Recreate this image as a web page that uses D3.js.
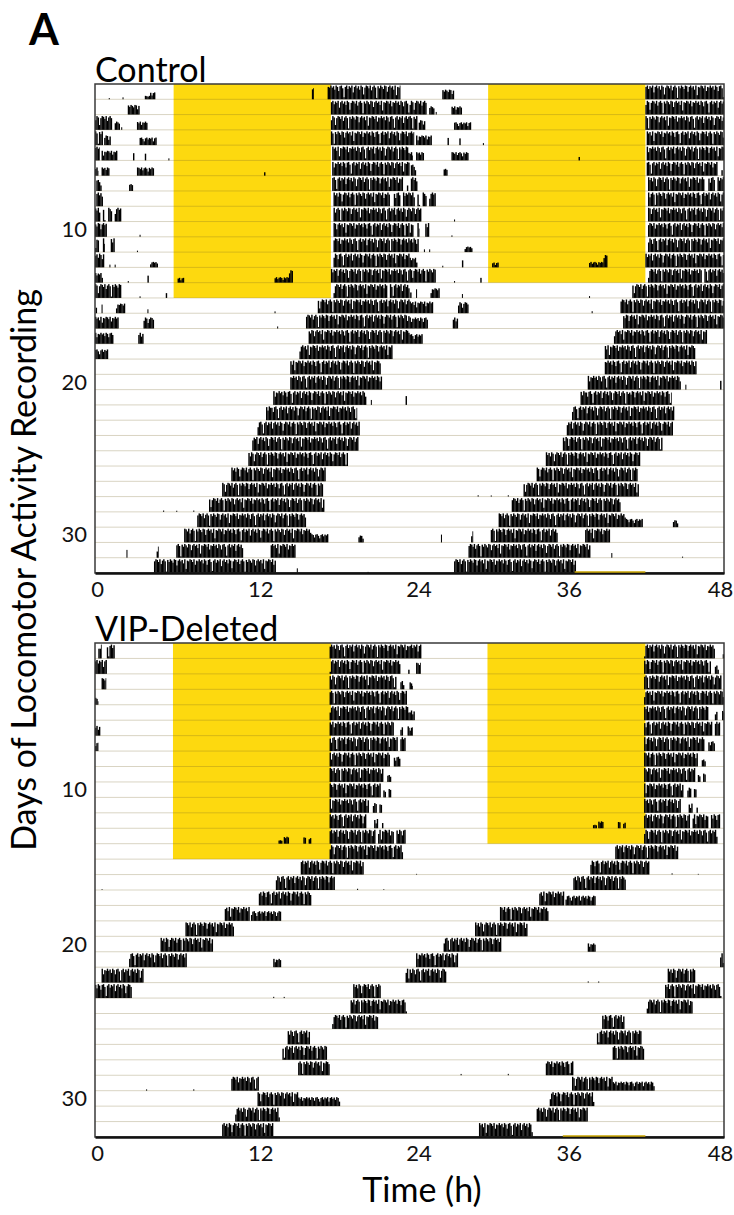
<!DOCTYPE html>
<html>
<head>
<meta charset="utf-8">
<script src="https://cdn.jsdelivr.net/npm/d3@7"></script>
<style>
  html, body { margin: 0; padding: 0; background: #fff; }
  svg { display: block; font-family: Lato, "Open Sans", sans-serif; }
</style>
</head>
<body>
<svg id="chart" width="734" height="1215"></svg>
<script>
// Double-plotted actograms: each row shows day n (0-24 h) followed by day n+1 (24-48 h).
// Activity is listed per day as bouts [startHour, endHour, relativeLevel].

const hourTicks = [0, 12, 24, 36, 48];
const dayTicks = [10, 20, 30];
const rowsPerPanel = 32;
const lightsOn = 6;      // hour the light phase begins
const lightsOff = 18;    // hour the light phase ends
const lastLightDay = 14; // last day of the light/dark cycle

// Per-bin activity profile (6-min bins) applied inside bouts
const binProfile = [1, 0.85, 0.95, 0.7, 1, 0.9, 0.6, 0.95, 1, 0.8, 0.15, 0.9, 1, 0.75, 0.95,
  0.85, 1, 0.5, 0.9, 1, 0.8, 0.95, 0.7, 1, 0.9, 0.35, 0.85, 1, 0.95, 0.8, 1, 0.65, 0.9, 1,
  0.85, 0.1, 0.95, 0.8, 1, 0.9, 0.75, 1, 0.95, 0.55, 0.9, 1, 0.85, 0.95, 0.7, 1, 0.3, 0.9,
  0.85, 1, 0.95, 0.8, 1, 0.6, 0.9, 0.85];

const controlDays = [
  /* 1 */ [[1.05, 1.12, 0.1], [2.1, 2.17, 0.15], [3.8, 4.2, 0.25], [4.2, 4.6, 0.5], [16.55, 16.7, 0.85], [17.75, 23.3]],
  /* 2 */ [[2.5, 3.4, 0.7], [18.0, 24]],
  /* 3 */ [[0, 1.3], [1.5, 1.9, 0.6], [2.0, 2.07, 0.2], [3.2, 4.0, 0.6], [18.0, 24]],
  /* 4 */ [[0, 0.6], [0.7, 1.2, 0.7], [3.4, 4.7, 0.55], [18.0, 24]],
  /* 5 */ [[0, 0.35], [0.5, 1.7, 0.7], [2.9, 3.0, 0.7], [3.8, 3.9, 0.7], [5.6, 5.67, 0.2], [18.1, 24]],
  /* 6 */ [[0, 0.25, 0.6], [0.5, 1.1, 0.6], [3.2, 4.5, 0.6], [12.9, 13.0, 0.25], [18.1, 24]],
  /* 7 */ [[0.1, 0.5, 0.8], [2.6, 2.9, 0.5], [18.1, 23.5], [23.8, 23.9, 0.4]],
  /* 8 */ [[0.1, 0.6], [18.2, 22.5], [22.8, 23.3], [23.5, 24]],
  /* 9 */ [[0, 0.4], [0.6, 0.8], [1.0, 1.3], [1.5, 2.0], [18.2, 24]],
  /* 10 */ [[0, 0.9], [3.4, 3.47, 0.2], [18.2, 24]],
  /* 11 */ [[0, 0.3], [0.6, 0.75], [1.2, 1.5], [3.2, 3.27, 0.15], [18.2, 24]],
  /* 12 */ [[0, 0.7], [1.1, 1.17, 0.2], [1.5, 1.57, 0.2], [4.2, 4.8, 0.4], [18.2, 24]],
  /* 13 */ [[0, 0.6, 0.7], [2.5, 2.57, 0.15], [4.0, 4.1, 0.6], [6.3, 6.8, 0.35], [13.7, 14.8, 0.4], [14.8, 15.1, 0.9], [18.0, 24]],
  /* 14 */ [[0, 2.0], [3.4, 3.47, 0.2], [5.4, 5.5, 0.7], [18.2, 22.3], [22.5, 24]],
  /* 15 */ [[0.05, 0.15, 0.8], [0.5, 0.57, 0.7], [1.6, 2.3, 0.7], [4.0, 4.07, 0.3], [13.7, 13.77, 0.15], [17.0, 24]],
  /* 16 */ [[0, 1.8, 0.85], [3.7, 4.5, 0.8], [13.9, 13.97, 0.15], [16.1, 24]],
  /* 17 */ [[0, 1.4, 0.8], [3.3, 3.7, 0.8], [16.3, 24]],
  /* 18 */ [[0, 1.0, 0.7], [15.6, 22.7]],
  /* 19 */ [[14.9, 21.8]],
  /* 20 */ [[14.9, 21.9]],
  /* 21 */ [[13.6, 20.7], [21.05, 21.12, 0.4], [23.7, 23.8, 0.8]],
  /* 22 */ [[13.05, 20.0]],
  /* 23 */ [[12.4, 20.2]],
  /* 24 */ [[12.0, 20.1]],
  /* 25 */ [[11.7, 19.3]],
  /* 26 */ [[10.4, 17.6]],
  /* 27 */ [[9.7, 17.4]],
  /* 28 */ [[5.2, 5.27, 0.1], [6.2, 6.27, 0.1], [7.5, 7.57, 0.1], [8.7, 17.5]],
  /* 29 */ [[7.8, 16.1]],
  /* 30 */ [[6.8, 16.5], [16.5, 17.8, 0.6], [20.1, 20.5, 0.5]],
  /* 31 */ [[2.4, 2.47, 0.6], [4.7, 4.85, 0.9], [6.2, 11.3], [13.4, 15.3]],
  /* 32 */ [[4.5, 13.8], [15.4, 15.47, 0.4], [20.8, 20.87, 0.1]],
  /* 33 */ [[3.4, 12.7]]
];

const vipDays = [
  /* 1 */ [[0.25, 0.5], [0.9, 1.5], [17.9, 24]],
  /* 2 */ [[0, 0.9], [17.9, 23.3], [23.9, 24, 0.6]],
  /* 3 */ [[0.5, 0.85, 0.8], [17.9, 23.0], [23.3, 23.6, 0.6]],
  /* 4 */ [[0, 0.25, 0.5], [17.9, 23.8]],
  /* 5 */ [[17.9, 24]],
  /* 6 */ [[0, 0.4, 0.7], [17.9, 22.8], [23.3, 23.5, 0.6], [23.85, 24, 0.7]],
  /* 7 */ [[0, 0.25, 0.6], [17.9, 23.1], [23.3, 23.7]],
  /* 8 */ [[17.9, 22.5], [22.8, 23.3, 0.7]],
  /* 9 */ [[17.9, 22.0], [22.3, 22.6, 0.5]],
  /* 10 */ [[17.9, 21.8], [22.0, 22.2, 0.5], [22.4, 22.6, 0.6]],
  /* 11 */ [[17.9, 20.9], [21.2, 21.5, 0.7], [21.7, 21.9, 0.6]],
  /* 12 */ [[17.9, 20.7], [21.3, 21.6, 0.7], [21.9, 22.0, 0.5]],
  /* 13 */ [[14.0, 14.3, 0.25], [14.4, 14.8, 0.5], [15.9, 16.1, 0.5], [16.3, 16.5, 0.4], [17.9, 21.4], [21.6, 22.8], [23.0, 23.7]],
  /* 14 */ [[17.9, 23.5]],
  /* 15 */ [[15.7, 20.5]],
  /* 16 */ [[0.5, 0.57, 0.1], [13.8, 18.3], [20.0, 20.07, 0.1], [22.0, 22.07, 0.1]],
  /* 17 */ [[12.5, 16.5]],
  /* 18 */ [[9.9, 11.8], [11.9, 14.2, 0.7]],
  /* 19 */ [[6.9, 10.6]],
  /* 20 */ [[5.0, 9.0]],
  /* 21 */ [[2.6, 7.0], [13.6, 14.2, 0.6]],
  /* 22 */ [[0.5, 3.7], [23.7, 24]],
  /* 23 */ [[0, 2.8], [13.6, 13.67, 0.1], [14.4, 14.47, 0.1], [19.7, 21.8]],
  /* 24 */ [[19.5, 23.8]],
  /* 25 */ [[18.1, 21.6]],
  /* 26 */ [[14.7, 16.4]],
  /* 27 */ [[14.3, 17.7]],
  /* 28 */ [[15.5, 17.9]],
  /* 29 */ [[3.9, 3.97, 0.1], [7.5, 7.57, 0.1], [10.4, 12.5]],
  /* 30 */ [[12.4, 15.5], [15.5, 18.7, 0.65]],
  /* 31 */ [[10.7, 14.1]],
  /* 32 */ [[9.7, 13.6]],
  /* 33 */ [[5.3, 9.4]]
];

// Stray light-phase trace along the bottom edge of each panel
const controlTail = [36.6, 42];
const vipTail = [35.7, 42];

const panels = [
  { title: "Control", days: controlDays, top: 84, bottom: 573, lightStart: lightsOn, tail: controlTail },
  { title: "VIP-Deleted", days: vipDays, top: 643, bottom: 1137, lightStart: 5.95, tail: vipTail }
];

const svg = d3.select("#chart");
const x = d3.scaleLinear().domain([0, 48]).range([95, 724]);
const yellow = "#fdd90f";
const binWidth = 0.1;
// small horizontal nudges of the hour labels
const hourLabelShift = { 0: 2, 12: 8, 24: 9, 36: 2, 48: -4 };

svg.append("text")
  .attr("x", 29).attr("y", 45)
  .attr("font-size", 43).attr("font-weight", 700)
  .text("A");

panels.forEach(p => {
  const g = svg.append("g");
  // row scale: day n centred at y(n)
  const y = d3.scaleLinear().domain([0.5, rowsPerPanel + 0.5]).range([p.top, p.bottom]);
  const rowH = y(1.5) - y(0.5);
  const maxH = rowH * 0.9;

  g.append("text")
    .attr("x", 95).attr("y", p.top - 2)
    .attr("font-size", 34)
    .text(p.title);

  // light phase shading
  g.append("rect")
    .attr("x", x(p.lightStart)).attr("width", x(lightsOff) - x(p.lightStart))
    .attr("y", y(0.5)).attr("height", y(lastLightDay + 0.5) - y(0.5))
    .attr("fill", yellow);
  g.append("rect")
    .attr("x", x(24 + p.lightStart)).attr("width", x(24 + lightsOff) - x(24 + p.lightStart))
    .attr("y", y(0.5)).attr("height", y(lastLightDay - 0.5) - y(0.5))
    .attr("fill", yellow);

  // row baselines
  const rows = d3.range(1, rowsPerPanel);
  g.append("g").selectAll("line").data(rows).join("line")
    .attr("x1", x(0)).attr("x2", x(48))
    .attr("y1", d => y(d + 0.5)).attr("y2", d => y(d + 0.5))
    .attr("stroke", "rgba(120,100,40,0.28)").attr("stroke-width", 1);

  // activity bins
  const bins = [];
  for (let r = 1; r <= rowsPerPanel; r++) {
    [0, 1].forEach(half => {
      const dayIdx = r - 1 + half;
      const bouts = p.days[dayIdx] || [];
      const offset = dayIdx * 11;
      bouts.forEach(b => {
        const s = b[0], e = Math.min(b[1], 24), lvl = b.length > 2 ? b[2] : 1;
        for (let t = s; t < e - 1e-6; t += binWidth) {
          const k = Math.round(t / binWidth);
          let v = binProfile[(k + offset) % binProfile.length];
          if (lvl < 1) v = Math.max(v, 0.5);
          const h = v * lvl * maxH;
          if (h <= 0) continue;
          bins.push({ x0: half * 24 + t, x1: half * 24 + Math.min(t + binWidth, e), base: y(r + 0.5), h });
        }
      });
    });
  }
  g.append("g").selectAll("rect").data(bins).join("rect")
    .attr("x", d => x(d.x0))
    .attr("width", d => Math.max(0.8, x(d.x1) - x(d.x0) + 0.1))
    .attr("y", d => d.base - d.h)
    .attr("height", d => d.h)
    .attr("fill", "#000");

  // frame
  g.append("rect")
    .attr("x", x(0)).attr("y", p.top)
    .attr("width", x(48) - x(0)).attr("height", p.bottom - p.top)
    .attr("fill", "none").attr("stroke", "#3a3a3a").attr("stroke-width", 1.5);

  // x axis
  const xAxis = g.append("g").attr("transform", `translate(0,${p.bottom})`)
    .call(d3.axisBottom(x).tickValues(hourTicks).tickSize(0).tickPadding(8));
  xAxis.select(".domain").attr("stroke", "#111").attr("stroke-width", 2.5);
  xAxis.selectAll("text").attr("font-size", 22).attr("fill", "#111")
    .attr("font-family", "Lato, 'Open Sans', sans-serif")
    .attr("dx", d => hourLabelShift[d]);

  g.append("line")
    .attr("x1", x(p.tail[0])).attr("x2", x(p.tail[1]))
    .attr("y1", p.bottom - 1).attr("y2", p.bottom - 1)
    .attr("stroke", "#c8a400").attr("stroke-width", 1.5);

  // y axis
  const yAxis = g.append("g").attr("transform", `translate(${x(0)},0)`)
    .call(d3.axisLeft(y).tickValues(dayTicks).tickSize(0).tickPadding(8));
  yAxis.select(".domain").remove();
  yAxis.selectAll("text").attr("font-size", 22).attr("fill", "#111")
    .attr("font-family", "Lato, 'Open Sans', sans-serif");
});

svg.append("text")
  .attr("transform", "translate(36,570) rotate(-90)")
  .attr("text-anchor", "middle")
  .attr("font-size", 34)
  .text("Days of Locomotor Activity Recording");

svg.append("text")
  .attr("x", 422).attr("y", 1202)
  .attr("text-anchor", "middle")
  .attr("font-size", 34)
  .text("Time (h)");
</script>
</body>
</html>
